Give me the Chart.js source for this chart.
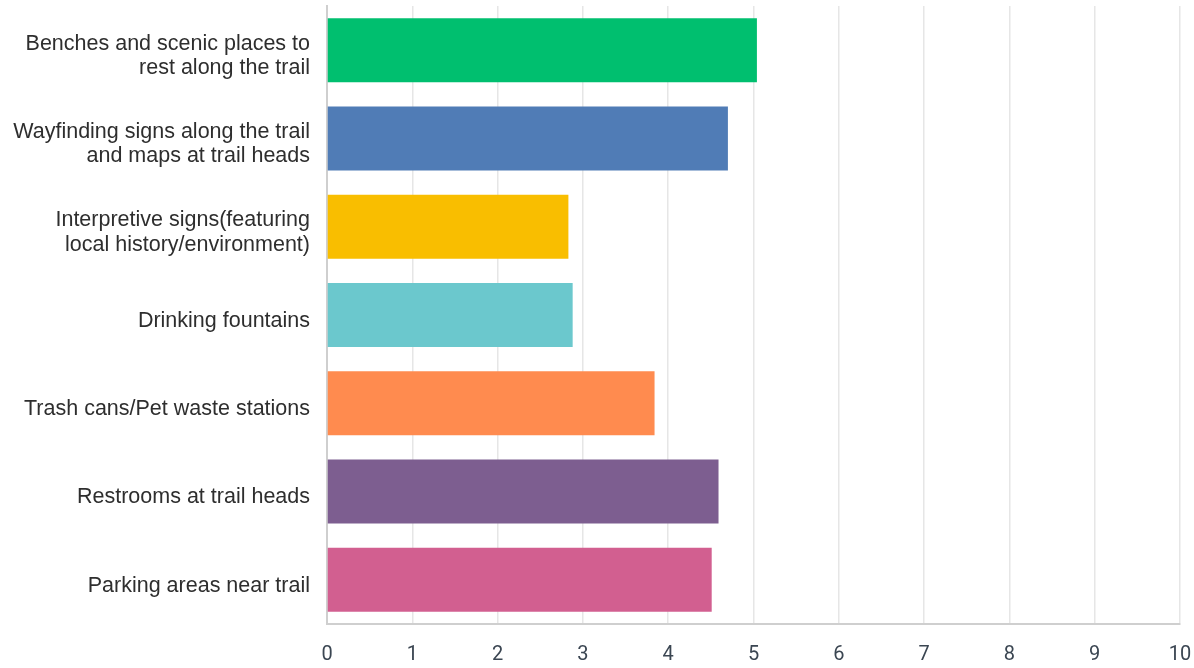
<!DOCTYPE html>
<html>
<head>
<meta charset="utf-8">
<script src="https://cdn.jsdelivr.net/npm/chart.js@4"></script>
<style>
  html, body { margin: 0; padding: 0; background: #fff; }
  #wrap { width: 1194px; height: 668px; position: relative; }
</style>
</head>
<body>
<div id="wrap"><canvas id="c"></canvas></div>
<script>
// ── Trail amenity ratings ──
const amenities = [
    ['Benches and scenic places to', 'rest along the trail'],
    ['Wayfinding signs along the trail', 'and maps at trail heads'],
    ['Interpretive signs(featuring', 'local history/environment)'],
    'Drinking fountains',
    'Trash cans/Pet waste stations',
    'Restrooms at trail heads',
    'Parking areas near trail'
];
const scores = [5.04, 4.70, 2.83, 2.88, 3.84, 4.59, 4.51];
const barColors = ['#00BF6F', '#507CB6', '#F9BE00', '#6BC8CD', '#FF8B4F', '#7D5E90', '#D25F90'];
const xTicks = [0, 1, 2, 3, 4, 5, 6, 7, 8, 9, 10];

const ctx = document.getElementById('c');
new Chart(ctx, {
    type: 'bar',
    data: {
        labels: amenities,
        datasets: [{
            data: scores,
            backgroundColor: barColors,
            borderWidth: 0,
            barPercentage: 0.725,
            categoryPercentage: 1
        }]
    },
    options: {
        indexAxis: 'y',
        responsive: true,
        maintainAspectRatio: false,
        animation: false,
        layout: { padding: { top: 6, right: 0, bottom: 0, left: 0 } },
        plugins: { legend: { display: false }, tooltip: { enabled: false } },
        scales: {
            x: {
                min: 0, max: 10,
                afterBuildTicks: s => { s.ticks = xTicks.map(v => ({ value: v })); },
                afterFit: s => { s.height = 44; s.paddingLeft = 0; s.paddingRight = 14; },
                grid: { color: '#e6e6e6', lineWidth: 1.5, drawTicks: false },
                border: { color: '#cfcfcf', width: 2 },
                ticks: {
                    padding: 19,
                    color: '#3b4652',
                    font: { family: "'Liberation Sans Narrow', 'Roboto', sans-serif", size: 20 }
                }
            },
            y: {
                afterFit: s => { s.width = 327; s.paddingTop = 0; s.paddingBottom = 0; },
                grid: { display: false, drawTicks: false },
                border: { color: '#cfcfcf', width: 2 },
                ticks: {
                    padding: 17,
                    labelOffset: 6,
                    color: '#2e2e2e',
                    font: { family: "'Liberation Sans', Arial, sans-serif", size: 21.5, lineHeight: 1.13 }
                }
            }
        }
    }
});
</script>
</body>
</html>
